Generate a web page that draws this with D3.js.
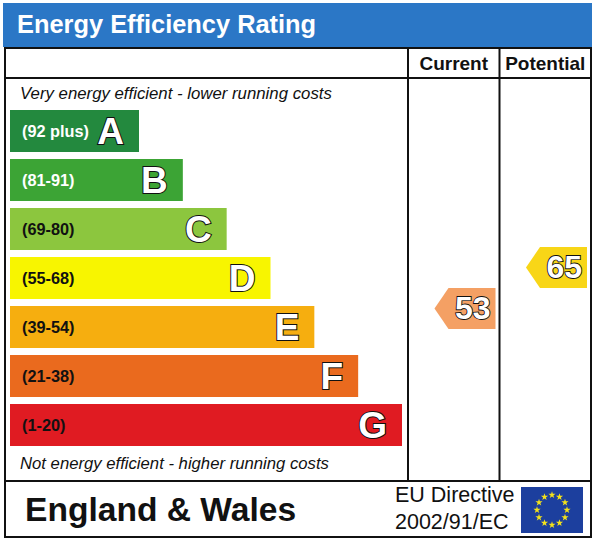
<!DOCTYPE html>
<html>
<head>
<meta charset="utf-8">
<script src="https://cdn.jsdelivr.net/npm/d3@7"></script>
<style>
  html,body{margin:0;padding:0;background:#fff;}
  svg{display:block;font-family:"Liberation Sans",Arial,sans-serif;}
</style>
</head>
<body>
<div id="chart"></div>
<script>
// EPC energy efficiency rating chart
const bands = ['A','B','C','D','E','F','G'];
const ranges = ['(92 plus)','(81-91)','(69-80)','(55-68)','(39-54)','(21-38)','(1-20)'];
const bandColors = ['#23893e','#3ca435','#8cc63e','#f8f500','#f6ae0f','#ea6a1e','#e01b22'];
const rangeText = ['#fff','#fff','#111','#111','#111','#111','#111'];
const columns = ['Current','Potential'];
const scores = [53, 65];
const scoreColors = ['#f4a064','#f8d617'];

const W = 598, H = 541;
const svg = d3.select('#chart').append('svg').attr('width',W).attr('height',H);

// frame geometry
const L = 5, R = 591, T = 48, HR = 78, FB = 481, B = 537;
const colX = d3.scaleBand().domain(columns).range([408, R]);

// header
svg.append('rect').attr('x',3).attr('y',3).attr('width',589).attr('height',44).attr('fill','#2b77c6');
svg.append('text').attr('x',17).attr('y',33).attr('fill','#fff').attr('font-size',25.4).attr('font-weight',700)
  .text('Energy Efficiency Rating');

// frame lines
const line = (x1,y1,x2,y2)=>svg.append('line').attr('x1',x1).attr('y1',y1).attr('x2',x2).attr('y2',y2)
  .attr('stroke','#111').attr('stroke-width',2);
svg.append('rect').attr('x',L).attr('y',T).attr('width',R-L).attr('height',B-T)
  .attr('fill','none').attr('stroke','#111').attr('stroke-width',2);
line(L,HR,R,HR);
line(L,FB,R,FB);
columns.forEach(c=>line(colX(c),T,colX(c),FB));

// column headings
svg.selectAll('text.col').data(columns).join('text').attr('class','col')
  .attr('x',c=>colX(c)+colX.bandwidth()/2).attr('y',70).attr('text-anchor','middle')
  .attr('font-size',19).attr('font-weight',700).attr('fill','#111').text(c=>c);

// italic captions
svg.append('text').attr('x',20).attr('y',99).attr('font-size',16.8).attr('font-style','italic').attr('fill','#111')
  .text('Very energy efficient - lower running costs');
svg.append('text').attr('x',20).attr('y',469).attr('font-size',16.7).attr('font-style','italic').attr('fill','#111')
  .text('Not energy efficient - higher running costs');

// bars
const y = d3.scaleBand().domain(bands).range([110,446]).paddingInner(0.143).paddingOuter(0);
const xEnd = d3.scaleLinear().domain([0,bands.length-1]).range([139,402]);
const g = svg.append('g');
const bar = g.selectAll('g.band').data(bands).join('g').attr('class','band');
bar.append('rect').attr('x',10).attr('y',b=>y(b)).attr('height',y.bandwidth())
  .attr('width',(b,i)=>xEnd(i)-10).attr('fill',(b,i)=>bandColors[i]);
bar.append('text').attr('x',22).attr('y',b=>y(b)+y.bandwidth()/2+6)
  .attr('font-size',16.3).attr('font-weight',700).attr('fill',(b,i)=>rangeText[i]).text((b,i)=>ranges[i]);
bar.append('text').attr('x',(b,i)=>xEnd(i)-15).attr('y',b=>y(b)+y.bandwidth()/2+13)
  .attr('text-anchor','end').attr('font-size',37).attr('font-weight',700)
  .attr('fill','#fff').attr('stroke','#111').attr('stroke-width',2).attr('paint-order','stroke')
  .text(b=>b);

// score arrows
const yScore = d3.scaleLinear().domain([0,100]).range([489.6,147.9]);
const aw = 61, ah = 41, tip = 14;
columns.forEach((c,i)=>{
  const right = colX(c)+colX.bandwidth()-4, cy = yScore(scores[i]);
  const pts = [[right-aw,cy],[right-aw+tip,cy-ah/2],[right,cy-ah/2],[right,cy+ah/2],[right-aw+tip,cy+ah/2]];
  svg.append('path').attr('d',d3.line()(pts)+'Z').attr('fill',scoreColors[i]);
  svg.append('text').attr('x',right-5).attr('y',cy+11).attr('text-anchor','end')
    .attr('font-size',32).attr('font-weight',700).attr('fill','#fff')
    .attr('stroke','#111').attr('stroke-width',1.8).attr('paint-order','stroke').text(scores[i]);
});

// footer
svg.append('text').attr('x',25).attr('y',521).attr('font-size',33.6).attr('font-weight',700).attr('fill','#111')
  .text('England & Wales');
svg.append('text').attr('x',395).attr('y',502).attr('font-size',21.5).attr('fill','#111')
  .text('EU Directive');
svg.append('text').attr('x',395).attr('y',529).attr('font-size',21.5).attr('fill','#111')
  .text('2002/91/EC');

// EU flag
svg.append('rect').attr('x',521).attr('y',487).attr('width',62).attr('height',46).attr('fill','#1c3f9e');
const stars = d3.range(12);
const star = d3.symbol(d3.symbolStar,16);
svg.selectAll('path.star').data(stars).join('path').attr('class','star')
  .attr('d',star).attr('fill','#f3e21a')
  .attr('transform',k=>{const a=k/12*2*Math.PI;return `translate(${552+15*Math.sin(a)},${510-15*Math.cos(a)})`;});
</script>
</body>
</html>
